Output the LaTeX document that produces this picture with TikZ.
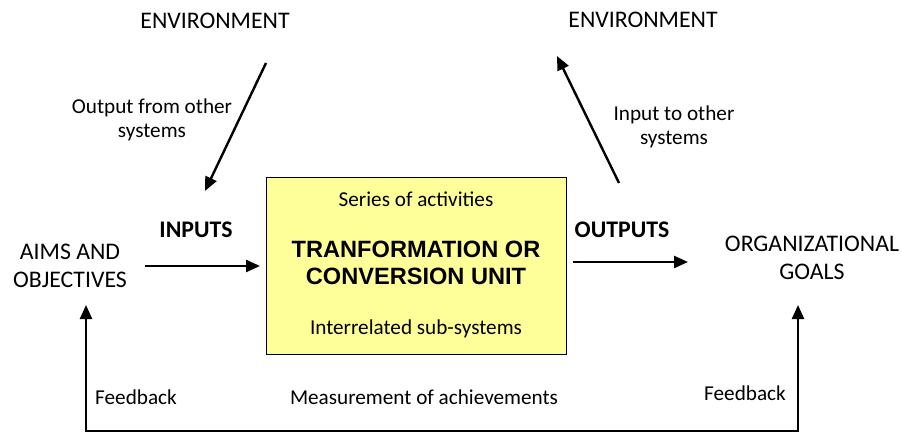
\documentclass[tikz,border=0pt]{standalone}
\usepackage{fontspec}
\setmainfont{Carlito}
\newfontfamily\arialfont{Liberation Sans}
\usetikzlibrary{arrows.meta}
\tikzset{
  conn/.style={line width=2.4pt, -{Triangle[length=14pt,width=12pt]}},
  lbl/.style={inner sep=0pt, align=center, font=\fontsize{21.2}{24}\selectfont},
  big/.style={inner sep=0pt, align=center, font=\fontsize{23.8}{27.5}\selectfont},
  bold/.style={inner sep=0pt, align=center, font=\fontsize{23.8}{27}\selectfont\bfseries},
  unit/.style={draw=black, line width=1pt, fill=yellowbox, minimum width=300pt, minimum height=177pt, inner sep=0pt}
}
\definecolor{yellowbox}{HTML}{FFFF99}
\begin{document}
\begin{tikzpicture}[x=1pt,y=-1pt]
\path[use as bounding box, fill=white] (0,0) rectangle (902,433);
% nodes
\node[big] (envL) at (215,21) {ENVIRONMENT};
\node[big] (envR) at (643,20) {ENVIRONMENT};
\node[unit] (box) at (416,265.5) {};
\node[lbl] (series) at (416,199) {Series of activities};
\node[inner sep=0pt, align=center, font=\arialfont\fontsize{23.6}{27}\selectfont\bfseries] (title) at (416,263) {TRANFORMATION OR\\CONVERSION UNIT};
\node[lbl] (inter) at (416,329) {Interrelated sub-systems};
\node[bold] (inputs) at (196,230) {INPUTS};
\node[bold] (outputs) at (622,230) {OUTPUTS};
\node[big] (aims) at (70,266) {AIMS AND\\OBJECTIVES};
\node[big] (org) at (812,258) {ORGANIZATIONAL\\GOALS};
\node[lbl] (outlbl) at (152,120) {Output from other\\systems};
\node[lbl] (inlbl) at (674,127) {Input to other\\systems};
\node[lbl] (fbL) at (136,397) {Feedback};
\node[lbl] (fbR) at (745,393) {Feedback};
\node[lbl] (meas) at (424,397) {Measurement of achievements};
% connector end points
\coordinate (a1) at (266,63);
\coordinate (a2) at (205,191);
\coordinate (b1) at (619,183);
\coordinate (b2) at (557,56);
\coordinate (c1) at (145,266);
\coordinate (c2) at (260,266);
\coordinate (d1) at (573,262);
\coordinate (d2) at (688,262);
\coordinate (fL) at (86,305);
\coordinate (fR) at (798,305);
\coordinate (bL) at (86,431);
\coordinate (bR) at (798,431);
% connectors
\draw[conn] (a1) -- (a2);
\draw[conn] (b1) -- (b2);
\draw[conn] (c1) -- (c2);
\draw[conn] (d1) -- (d2);
\draw[line width=2.4pt, {Triangle[length=14pt,width=12pt]}-{Triangle[length=14pt,width=12pt]}] (fR) -- (bR) -- (bL) -- (fL);
\end{tikzpicture}
\end{document}
